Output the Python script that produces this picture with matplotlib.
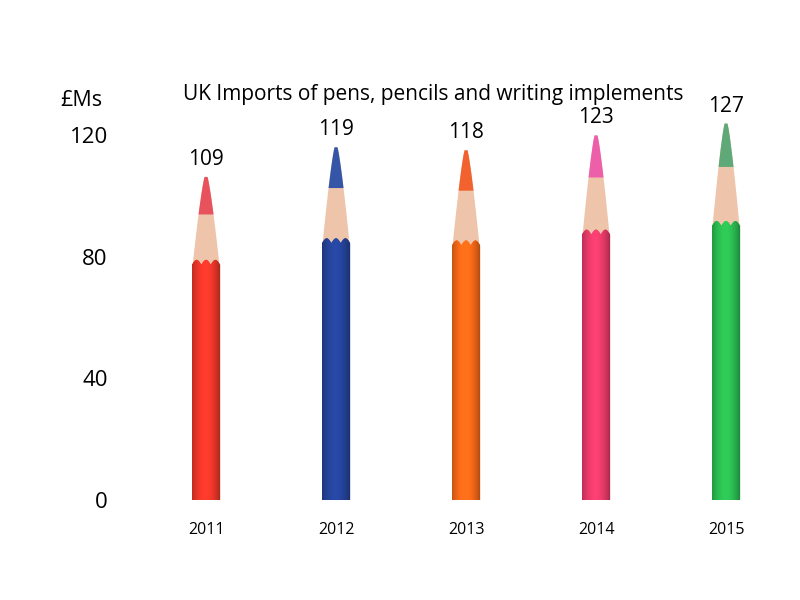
import numpy as np
import matplotlib.pyplot as plt
from matplotlib.patches import Polygon

plt.rcParams['font.family'] = ['Open Sans', 'DejaVu Sans']

# ------------------------------------
# Data
# ------------------------------------
years = ["2011", "2012", "2013", "2014", "2015"]
imports = [109, 119, 118, 123, 127]
body_colors = ["#F0382A", "#25449C", "#F86A18", "#EC3C6C", "#2CBF52"]
lead_colors = ["#E8525C", "#3556A6", "#F2622E", "#EE5FAA", "#5FA877"]
wood_color = "#EEC4AA"

# ------------------------------------
# Figure / axes placed so 0..140 maps onto the pixel layout
# ------------------------------------
fig = plt.figure(figsize=(8, 6), dpi=100)
ax = fig.add_axes([0.1625, 0.1667, 0.825, 0.7093])
ax.set_xlim(-0.585, 4.492)
ax.set_ylim(0, 140)

half_w = 0.108
tip_scale = 0.975   # pencil tip sits a touch under the value (picture style)


def shade(color, n=40):
    # horizontal shading: darker edges, lighter middle
    rgb = np.array(plt.matplotlib.colors.to_rgb(color))
    t = np.linspace(-1, 1, n)
    f = 0.8 + 0.28 * (1 - t ** 2) - 0.12 * np.clip(t, 0, 1)
    img = np.clip(rgb[None, :] * f[:, None], 0, 1)
    return img[None, :, :]


def cone_outline(cx, y0, y1, s0, s1, tip_w, n=30):
    # half width tapers with a slightly convex profile
    s = np.linspace(s0, s1, n)
    hw = tip_w + (half_w - tip_w) * (1 - s) ** 0.8
    ys = y0 + (y1 - y0) * s
    left = list(zip(cx - hw, ys))
    right = list(zip(cx + hw, ys))[::-1]
    return left + right


for i, (v, bc, lc) in enumerate(zip(imports, body_colors, lead_colors)):
    tip = v * tip_scale
    body_top = v * 0.71
    x0, x1 = i - half_w, i + half_w
    tip_w = half_w * 0.1
    base = body_top - 2

    # wood cone
    ax.add_patch(Polygon(cone_outline(i, base, tip, 0, 1, tip_w), closed=True,
                         facecolor=wood_color, edgecolor="none", zorder=2))

    # coloured lead at the top of the cone
    ax.add_patch(Polygon(cone_outline(i, base, tip, 0.6, 1, tip_w), closed=True,
                         facecolor=lc, edgecolor="none", zorder=3))

    # body with scalloped top edge
    xs = np.linspace(x0, x1, 60)
    ys = body_top + 1.6 * np.abs(np.sin((xs - x0) / (x1 - x0) * 3 * np.pi))
    verts = [(x0, 0)] + list(zip(xs, ys)) + [(x1, 0)]
    body = Polygon(verts, closed=True, facecolor=bc, edgecolor="none", zorder=4)
    ax.add_patch(body)
    im = ax.imshow(shade(bc), extent=[x0, x1, 0, body_top + 2],
                   aspect="auto", zorder=4)
    im.set_clip_path(body)

    ax.annotate(str(v), xy=(i, tip), xytext=(0, 5), textcoords="offset points",
                ha="center", va="bottom", fontsize=15)

ax.set_xticks(range(len(years)))
ax.set_xticklabels(years, fontsize=11.5)
ax.set_yticks([0, 40, 80, 120])
ax.set_yticklabels(["0", "40", "80", "120"], fontsize=16)
ax.tick_params(axis="x", length=0, pad=16)
ax.tick_params(axis="y", length=0, pad=16)
for s in ax.spines.values():
    s.set_visible(False)

fig.text(0.541, 0.843, "UK Imports of pens, pencils and writing implements",
         ha="center", va="center", fontsize=15)
fig.text(0.102, 0.833, "£Ms", ha="center", va="center", fontsize=15.5)

fig.savefig("out.png", dpi=100)
